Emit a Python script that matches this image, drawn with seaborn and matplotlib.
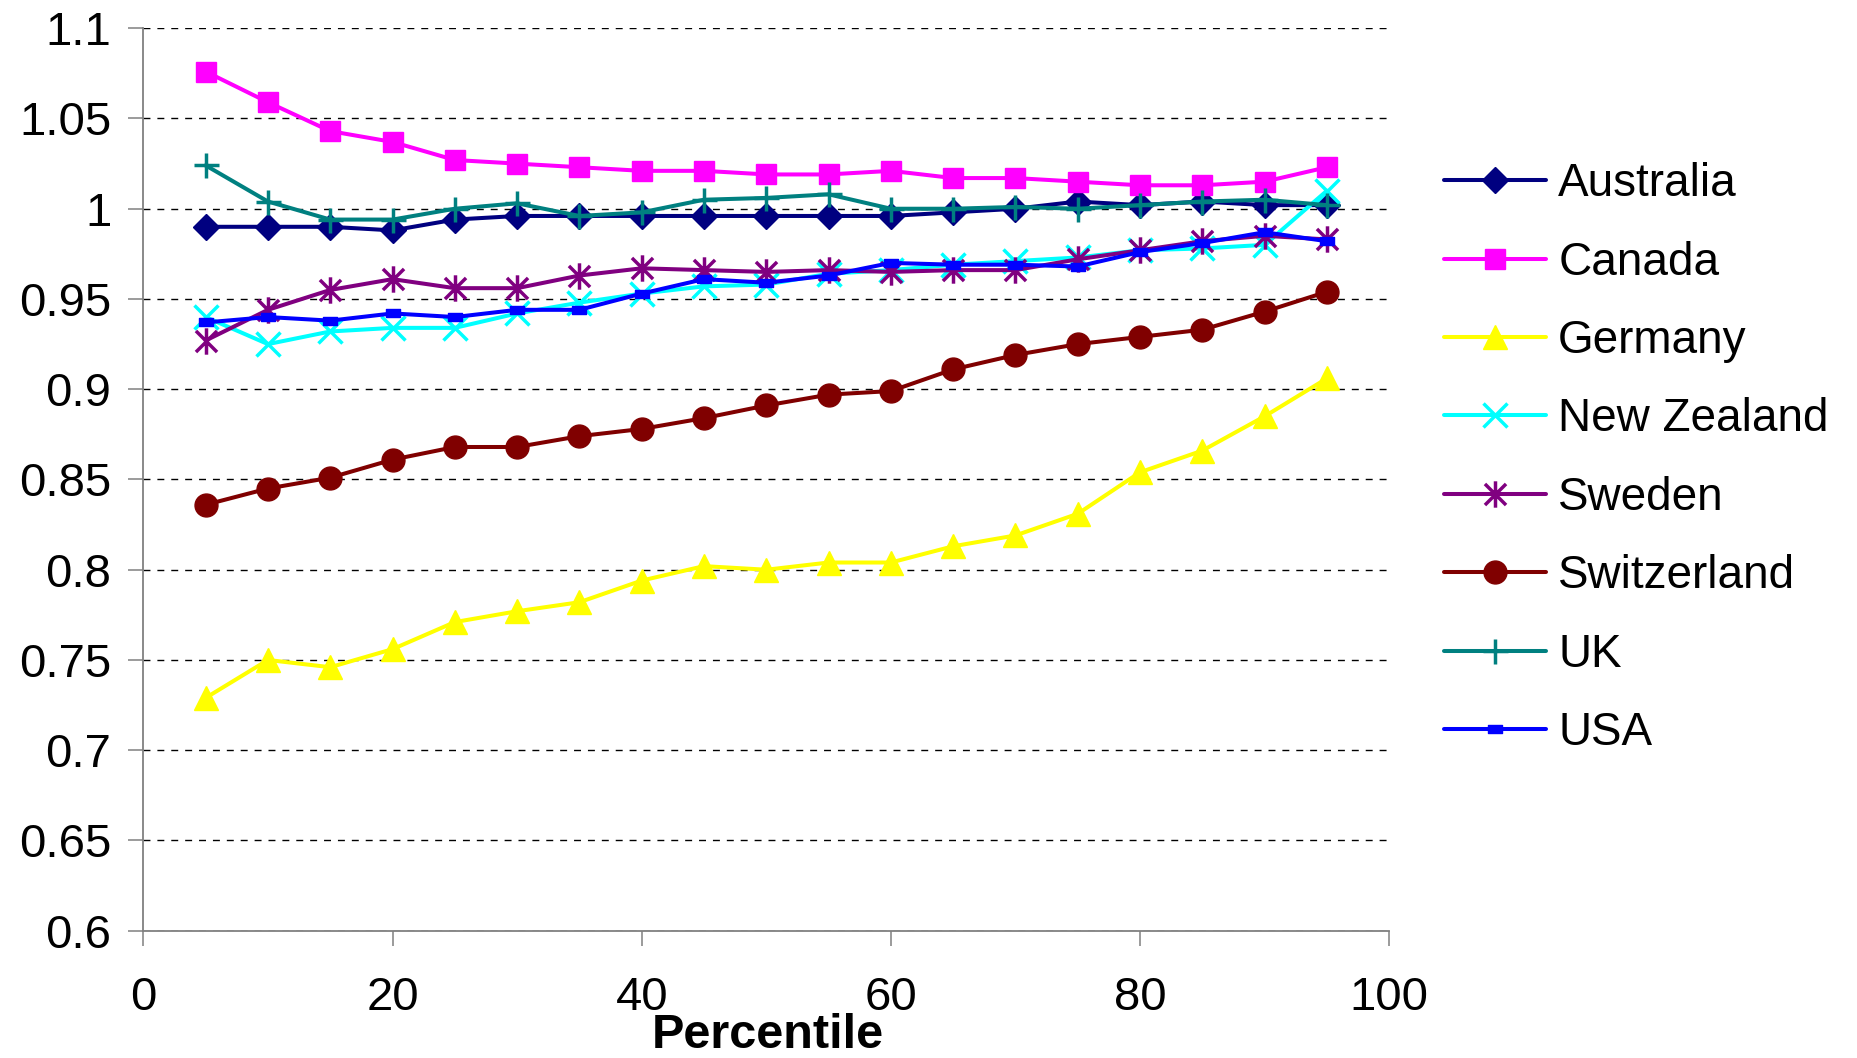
import numpy as np
import pandas as pd
import matplotlib
matplotlib.use("Agg")
import matplotlib.pyplot as plt
from matplotlib.path import Path
from matplotlib.ticker import FuncFormatter
import seaborn as sns

# ---- data ----
percentile = [5, 10, 15, 20, 25, 30, 35, 40, 45, 50, 55, 60, 65, 70, 75, 80, 85, 90, 95]

australia = [0.990, 0.990, 0.990, 0.988, 0.994, 0.996, 0.996, 0.996, 0.996, 0.996,
             0.996, 0.996, 0.998, 1.000, 1.004, 1.002, 1.004, 1.002, 1.002]
canada = [1.076, 1.059, 1.043, 1.037, 1.027, 1.025, 1.023, 1.021, 1.021, 1.019,
          1.019, 1.021, 1.017, 1.017, 1.015, 1.013, 1.013, 1.015, 1.023]
germany = [0.729, 0.750, 0.746, 0.756, 0.771, 0.777, 0.782, 0.794, 0.802, 0.800,
           0.804, 0.804, 0.813, 0.819, 0.831, 0.854, 0.866, 0.885, 0.906]
new_zealand = [0.940, 0.925, 0.932, 0.934, 0.934, 0.942, 0.948, 0.953, 0.957, 0.958,
               0.964, 0.966, 0.969, 0.971, 0.973, 0.977, 0.978, 0.980, 1.010]
sweden = [0.927, 0.944, 0.955, 0.961, 0.956, 0.956, 0.963, 0.967, 0.966, 0.965,
          0.966, 0.965, 0.966, 0.966, 0.972, 0.977, 0.982, 0.985, 0.983]
switzerland = [0.836, 0.845, 0.851, 0.861, 0.868, 0.868, 0.874, 0.878, 0.884, 0.891,
               0.897, 0.899, 0.911, 0.919, 0.925, 0.929, 0.933, 0.943, 0.954]
uk = [1.024, 1.004, 0.994, 0.994, 1.000, 1.003, 0.996, 0.998, 1.005, 1.006,
      1.008, 1.000, 1.000, 1.001, 1.000, 1.002, 1.004, 1.005, 1.002]
usa = [0.937, 0.940, 0.938, 0.942, 0.940, 0.944, 0.944, 0.953, 0.961, 0.959,
       0.963, 0.970, 0.969, 0.969, 0.968, 0.976, 0.981, 0.987, 0.982]

countries = ["Australia", "Canada", "Germany", "New Zealand", "Sweden",
             "Switzerland", "UK", "USA"]
series = [australia, canada, germany, new_zealand, sweden, switzerland, uk, usa]

y_ticks = [0.6, 0.65, 0.7, 0.75, 0.8, 0.85, 0.9, 0.95, 1.0, 1.05, 1.1]
x_ticks = [0, 20, 40, 60, 80, 100]

# ---- marker shapes ----
asterisk = Path(
    [(-0.8, -0.8), (0.8, 0.8), (-0.8, 0.8), (0.8, -0.8), (0, -1.0), (0, 1.0)],
    [Path.MOVETO, Path.LINETO, Path.MOVETO, Path.LINETO, Path.MOVETO, Path.LINETO],
)
flat_rect = Path(
    [(-1, -0.55), (1, -0.55), (1, 0.55), (-1, 0.55), (-1, -0.55)],
    [Path.MOVETO, Path.LINETO, Path.LINETO, Path.LINETO, Path.CLOSEPOLY],
)

styles = {
    "Australia":   dict(color="#000080", marker="D", markersize=13, mew=1.0),
    "Canada":      dict(color="#FF00FF", marker="s", markersize=14.5, mew=1.0),
    "Germany":     dict(color="#FFFF00", marker="^", markersize=17, mew=1.0),
    "New Zealand": dict(color="#00FFFF", marker="x", markersize=17, mew=2.5),
    "Sweden":      dict(color="#800080", marker=asterisk, markersize=19, mew=2.5),
    "Switzerland": dict(color="#800000", marker="o", markersize=16.5, mew=1.0),
    "UK":          dict(color="#008080", marker="+", markersize=18, mew=2.5),
    "USA":         dict(color="#0000FF", marker=flat_rect, markersize=10, mew=1.0),
}

df = pd.DataFrame({"Percentile": percentile})
for name, vals in zip(countries, series):
    df[name] = vals
long_df = df.melt(id_vars="Percentile", var_name="Country", value_name="Value")

# ---- figure ----
sns.set_theme(style="white")
plt.rcParams["font.family"] = ["Liberation Sans", "DejaVu Sans"]
plt.rcParams.update({"text.color": "black", "axes.labelcolor": "black",
                     "xtick.labelcolor": "black", "ytick.labelcolor": "black"})

fig = plt.figure(figsize=(18.57, 10.58), dpi=100)
ax = fig.add_axes([0.0772, 0.1203, 0.6709, 0.8530])

for name in countries:
    st = styles[name]
    sub = long_df[long_df["Country"] == name]
    sns.lineplot(
        data=sub, x="Percentile", y="Value", ax=ax,
        color=st["color"], linewidth=2.9,
        marker=st["marker"], markersize=st["markersize"],
        markeredgewidth=st["mew"], markeredgecolor=st["color"],
        markerfacecolor=st["color"], label=name,
    )

if ax.get_legend() is not None:
    ax.get_legend().remove()

ax.set_xlim(0, 100)
ax.set_ylim(0.6, 1.1)
ax.set_xticks(x_ticks)
ax.set_yticks(y_ticks)
ax.yaxis.set_major_formatter(FuncFormatter(lambda v, p: f"{v:g}"))
ax.set_xlabel("")
ax.set_ylabel("")

for s in ("top", "right"):
    ax.spines[s].set_visible(False)
for s in ("left", "bottom"):
    ax.spines[s].set_color("#808080")
    ax.spines[s].set_linewidth(1.3)

ax.yaxis.grid(True, color="black", linestyle=(0, (5, 5)), linewidth=1.0)
ax.xaxis.grid(False)
ax.set_axisbelow(True)

ax.tick_params(axis="y", which="major", direction="out", length=11, width=1.1,
               color="#808080", pad=12, labelsize=34, left=True, labelcolor="black")
ax.tick_params(axis="x", which="major", direction="out", length=10.5, width=1.1,
               color="#808080", pad=22, labelsize=34, bottom=True, labelcolor="black")

fig.text(768 / 1857, 0.0, "Percentile", ha="center", va="bottom",
         fontsize=35, fontweight="bold", color="black")

handles, labels = ax.get_legend_handles_labels()
fig.legend(handles, labels, loc="center left", bbox_to_anchor=(0.7776, 0.5665),
           frameon=False, borderpad=0, borderaxespad=0, fontsize=33,
           handlelength=2.23, handletextpad=0.26, labelspacing=0.75)

fig.savefig("out.png", dpi=100)
